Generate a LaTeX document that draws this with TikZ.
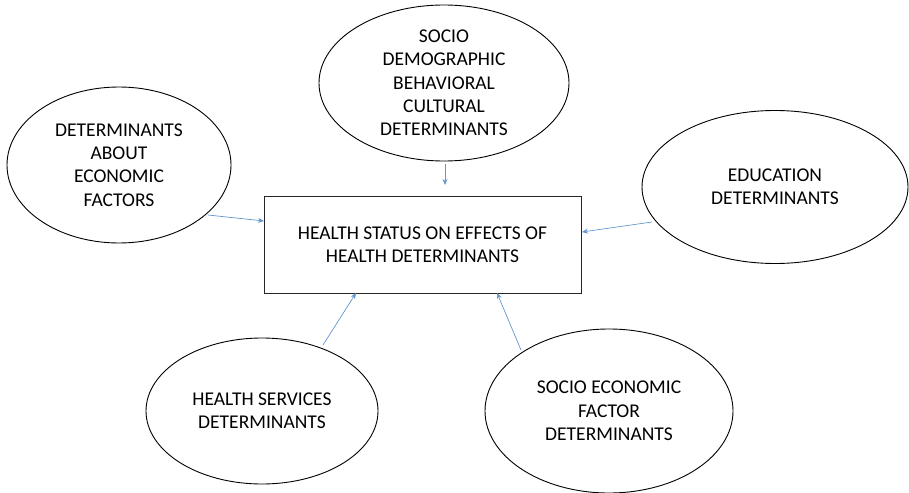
\documentclass[tikz,border=0pt]{standalone}
\usepackage{fontspec}
\setmainfont{Carlito}
\usetikzlibrary{shapes.geometric,arrows.meta}
\definecolor{arrowblue}{RGB}{98,150,205}
\tikzset{
  det/.style={ellipse, draw=black, line width=0.9pt, inner sep=0pt, align=center,
    font=\fontsize{19.5}{23.3}\selectfont},
  mainbox/.style={rectangle, draw=black!85, line width=1pt, inner sep=0pt, align=center,
    minimum width=317pt, minimum height=97pt, font=\fontsize{19.5}{23}\selectfont},
  conn/.style={draw=arrowblue, line width=0.7pt, -{Stealth[length=6pt,width=5pt]}}
}
\begin{document}
\begin{tikzpicture}[x=1pt,y=-1pt]
\useasboundingbox (0,0) rectangle (909,492);
\node[mainbox] (box) at (422.5,244.5) {HEALTH STATUS ON EFFECTS OF\\HEALTH DETERMINANTS};
\node[det, minimum width=224pt, minimum height=156pt] (econ) at (119,165) {DETERMINANTS\\ABOUT\\ECONOMIC\\FACTORS};
\node[det, minimum width=250pt, minimum height=156pt] (socio) at (444,83) {SOCIO\\DEMOGRAPHIC\\BEHAVIORAL\\CULTURAL\\DETERMINANTS};
\node[det, minimum width=266pt, minimum height=153pt] (edu) at (775,187) {EDUCATION\\DETERMINANTS};
\node[det, minimum width=232pt, minimum height=146pt] (hserv) at (262,411) {HEALTH SERVICES\\DETERMINANTS};
\node[det, minimum width=248pt, minimum height=164pt] (secon) at (609,411) {SOCIO ECONOMIC\\FACTOR\\DETERMINANTS};
\coordinate (a1) at (208,215);
\coordinate (b1) at (264,221);
\coordinate (a2) at (445,164);
\coordinate (b2) at (445,185);
\coordinate (a3) at (652,222);
\coordinate (b3) at (582,232);
\coordinate (a4) at (323,345);
\coordinate (b4) at (356,293);
\coordinate (a5) at (521,350);
\coordinate (b5) at (497,293);
\draw[conn] (a1) -- (b1);
\draw[conn] (a2) -- (b2);
\draw[conn] (a3) -- (b3);
\draw[conn] (a4) -- (b4);
\draw[conn] (a5) -- (b5);
\end{tikzpicture}
\end{document}
